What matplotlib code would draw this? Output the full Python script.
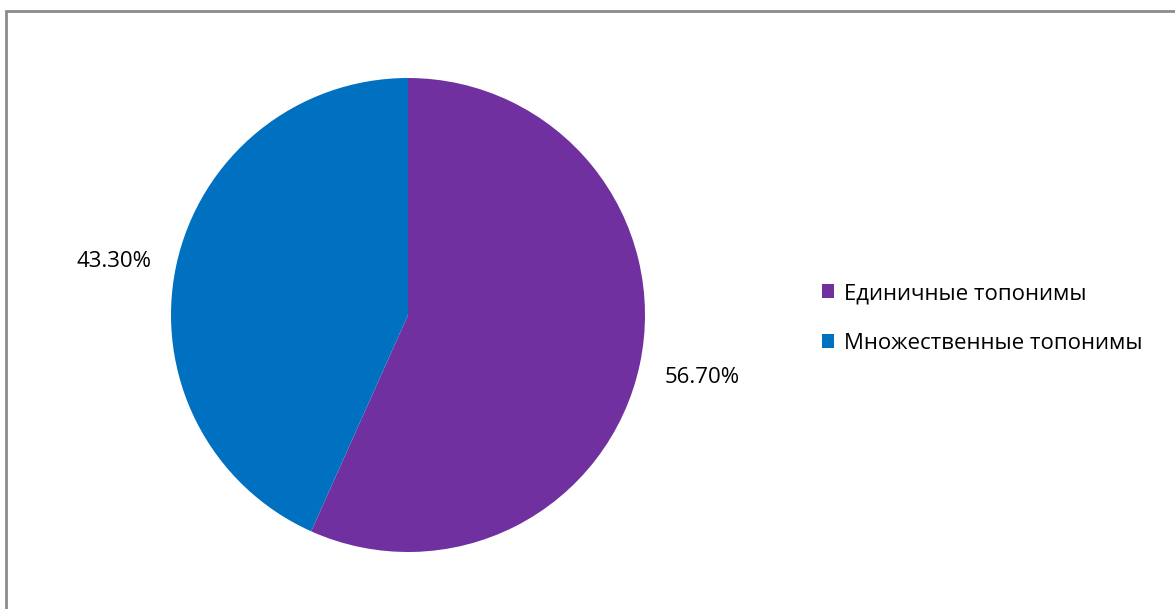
import matplotlib.pyplot as plt
from matplotlib.patches import Rectangle
import matplotlib.transforms as mtransforms

categories = ['Единичные топонимы', 'Множественные топонимы']
shares = [56.7, 43.3]
colors = ['#7030a0', '#0070c0']

plt.rcParams['font.family'] = ['Open Sans', 'DejaVu Sans']

W, H = 1175, 609
fig = plt.figure(figsize=(W / 100, H / 100), dpi=100)

# chart border (only left and top visible in the original)
fig.patches.append(Rectangle((6 / W, -0.1), 1.2, 1.1 - 11.5 / H,
                             transform=fig.transFigure, fill=False,
                             edgecolor='#8c8c8c', linewidth=2))

# pie
cx, cy, r = 408, 315, 237
ax = fig.add_axes([(cx - r) / W, (H - cy - r) / H, 2 * r / W, 2 * r / H])
wedges, texts, autotexts = ax.pie(
    shares,
    colors=colors,
    startangle=90,
    counterclock=False,
    autopct='%.2f%%',
    pctdistance=1.27,
    wedgeprops={'linewidth': 0},
    textprops={'fontsize': 16, 'color': 'black'},
)
ax.set_xlim(-1, 1)
ax.set_ylim(-1, 1)
ax.set_aspect('equal')

# small downward nudge of the left label, as in the original
autotexts[1].set_transform(ax.transData + mtransforms.ScaledTranslation(
    0, -0.09, fig.dpi_scale_trans))

fig.legend(
    wedges, categories,
    loc='center left',
    bbox_to_anchor=(802 / W, 1 - 318.5 / H),
    frameon=False,
    fontsize=16,
    handlelength=0.55,
    handleheight=0.55,
    handletextpad=0.45,
    labelspacing=1.3,
)

fig.savefig('out.png', dpi=100)
